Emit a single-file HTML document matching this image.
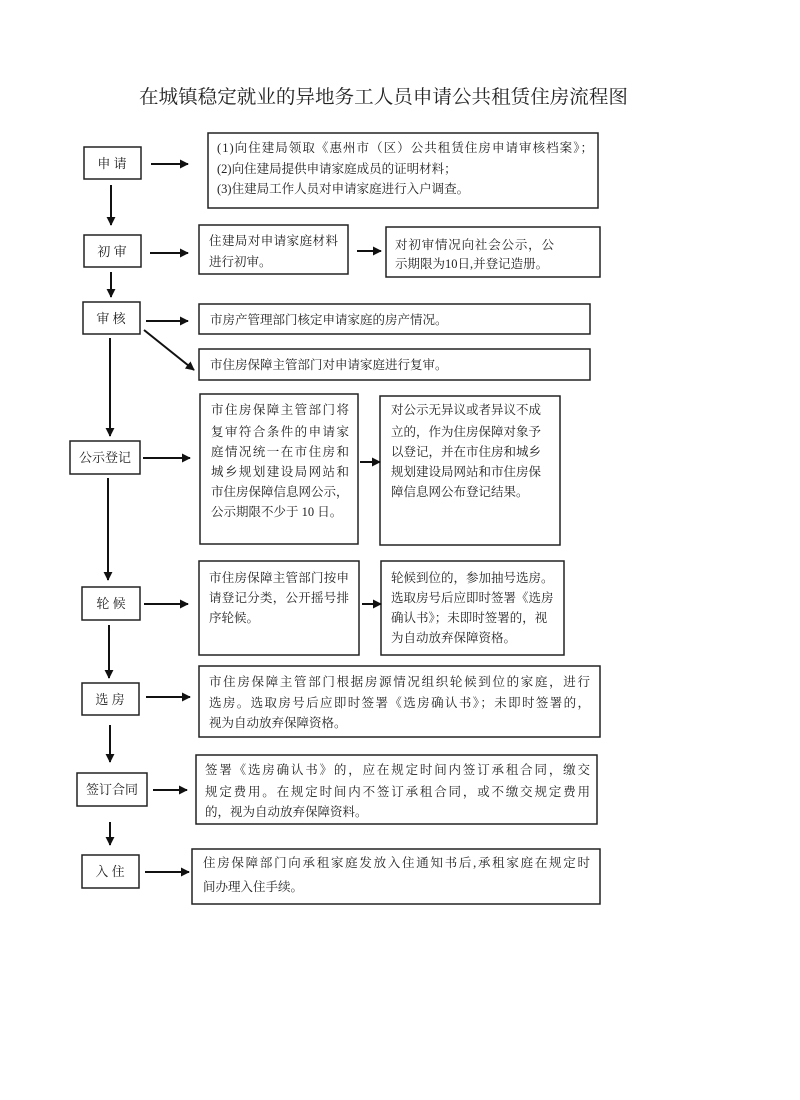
<!DOCTYPE html>
<html><head><meta charset="utf-8"><style>
html,body{margin:0;padding:0;background:#fff;}
svg{display:block;}
text{font-family:"Liberation Serif","Noto Serif CJK SC","Noto Sans CJK SC",serif;fill:#222;}
</style></head><body>
<svg width="800" height="1100" viewBox="0 0 800 1100" xmlns="http://www.w3.org/2000/svg">
<defs>
<marker id="a" viewBox="0 0 10 10" refX="9" refY="5" markerWidth="9" markerHeight="9" orient="auto" markerUnits="userSpaceOnUse"><path d="M0,0 L10,5 L0,10 z" fill="#111"/></marker>
</defs>
<rect width="800" height="1100" fill="#fff"/>
<text x="139" y="103" font-size="19" textLength="489" lengthAdjust="spacingAndGlyphs">在城镇稳定就业的异地务工人员申请公共租赁住房流程图</text>

<g fill="none" stroke="#222" stroke-width="1.5">
<rect x="84" y="147" width="57" height="32"/>
<rect x="208" y="133" width="390" height="75"/>
<rect x="84" y="235" width="57" height="32"/>
<rect x="199" y="225" width="149" height="49"/>
<rect x="386" y="227" width="214" height="50"/>
<rect x="83" y="302" width="57" height="32"/>
<rect x="199" y="304" width="391" height="30"/>
<rect x="199" y="349" width="391" height="31"/>
<rect x="70" y="441" width="70" height="33"/>
<rect x="200" y="394" width="158" height="150"/>
<rect x="380" y="396" width="180" height="149"/>
<rect x="82" y="587" width="58" height="33"/>
<rect x="199" y="561" width="160" height="94"/>
<rect x="381" y="561" width="183" height="94"/>
<rect x="82" y="683" width="57" height="32"/>
<rect x="199" y="666" width="401" height="71"/>
<rect x="77" y="773" width="70" height="33"/>
<rect x="196" y="755" width="401" height="69"/>
<rect x="82" y="855" width="57" height="33"/>
<rect x="192" y="849" width="408" height="55"/>
</g>

<g stroke="#111" stroke-width="2" marker-end="url(#a)">
<line x1="151" y1="164" x2="188" y2="164"/>
<line x1="111" y1="185" x2="111" y2="225"/>
<line x1="150" y1="253" x2="188" y2="253"/>
<line x1="357" y1="251" x2="381" y2="251"/>
<line x1="111" y1="272" x2="111" y2="297"/>
<line x1="146" y1="321" x2="188" y2="321"/>
<line x1="144" y1="330" x2="194" y2="370"/>
<line x1="110" y1="338" x2="110" y2="436"/>
<line x1="143" y1="458" x2="190" y2="458"/>
<line x1="360" y1="462" x2="380" y2="462"/>
<line x1="108" y1="478" x2="108" y2="580"/>
<line x1="144" y1="604" x2="188" y2="604"/>
<line x1="362" y1="604" x2="381" y2="604"/>
<line x1="109" y1="625" x2="109" y2="678"/>
<line x1="146" y1="697" x2="190" y2="697"/>
<line x1="110" y1="725" x2="110" y2="762"/>
<line x1="153" y1="790" x2="187" y2="790"/>
<line x1="110" y1="822" x2="110" y2="845"/>
<line x1="145" y1="872" x2="189" y2="872"/>
</g>

<g font-size="13" text-anchor="middle">
<text x="112" y="168">申 请</text>
<text x="112" y="256">初 审</text>
<text x="111" y="323">审 核</text>
<text x="105" y="462">公示登记</text>
<text x="111" y="608">轮 候</text>
<text x="110" y="704">选 房</text>
<text x="112" y="794">签订合同</text>
<text x="110" y="876">入 住</text>
</g>

<g font-size="12.5" lengthAdjust="spacing">
<text x="217" y="152" textLength="376">(1)向住建局领取《惠州市（区）公共租赁住房申请审核档案》；</text>
<text x="217" y="173">(2)向住建局提供申请家庭成员的证明材料；</text>
<text x="217" y="193">(3)住建局工作人员对申请家庭进行入户调查。</text>

<text x="209" y="245" textLength="129">住建局对申请家庭材料</text>
<text x="209" y="266">进行初审。</text>
<text x="395" y="249" textLength="159">对初审情况向社会公示，公</text>
<text x="395" y="268">示期限为10日,并登记造册。</text>

<text x="210" y="324">市房产管理部门核定申请家庭的房产情况。</text>
<text x="210" y="369">市住房保障主管部门对申请家庭进行复审。</text>

<text x="211" y="414" textLength="138">市住房保障主管部门将</text>
<text x="211" y="436" textLength="138">复审符合条件的申请家</text>
<text x="211" y="456" textLength="138">庭情况统一在市住房和</text>
<text x="211" y="476" textLength="138">城乡规划建设局网站和</text>
<text x="211" y="496">市住房保障信息网公示，</text>
<text x="211" y="516">公示期限不少于 10 日。</text>

<text x="391" y="414">对公示无异议或者异议不成</text>
<text x="391" y="436">立的，作为住房保障对象予</text>
<text x="391" y="456">以登记，并在市住房和城乡</text>
<text x="391" y="476">规划建设局网站和市住房保</text>
<text x="391" y="496">障信息网公布登记结果。</text>

<text x="209" y="582" textLength="140">市住房保障主管部门按申</text>
<text x="209" y="602" textLength="140">请登记分类，公开摇号排</text>
<text x="209" y="622">序轮候。</text>
<text x="391" y="582">轮候到位的，参加抽号选房。</text>
<text x="391" y="602">选取房号后应即时签署《选房</text>
<text x="391" y="622">确认书》；未即时签署的，视</text>
<text x="391" y="642">为自动放弃保障资格。</text>

<text x="209" y="686" textLength="381">市住房保障主管部门根据房源情况组织轮候到位的家庭，进行</text>
<text x="209" y="707" textLength="381">选房。选取房号后应即时签署《选房确认书》；未即时签署的，</text>
<text x="209" y="727">视为自动放弃保障资格。</text>

<text x="205" y="774" textLength="385">签署《选房确认书》的，应在规定时间内签订承租合同，缴交</text>
<text x="205" y="796" textLength="385">规定费用。在规定时间内不签订承租合同，或不缴交规定费用</text>
<text x="205" y="816">的，视为自动放弃保障资料。</text>

<text x="203" y="867" textLength="387">住房保障部门向承租家庭发放入住通知书后,承租家庭在规定时</text>
<text x="203" y="891">间办理入住手续。</text>
</g>
</svg>
</body></html>
